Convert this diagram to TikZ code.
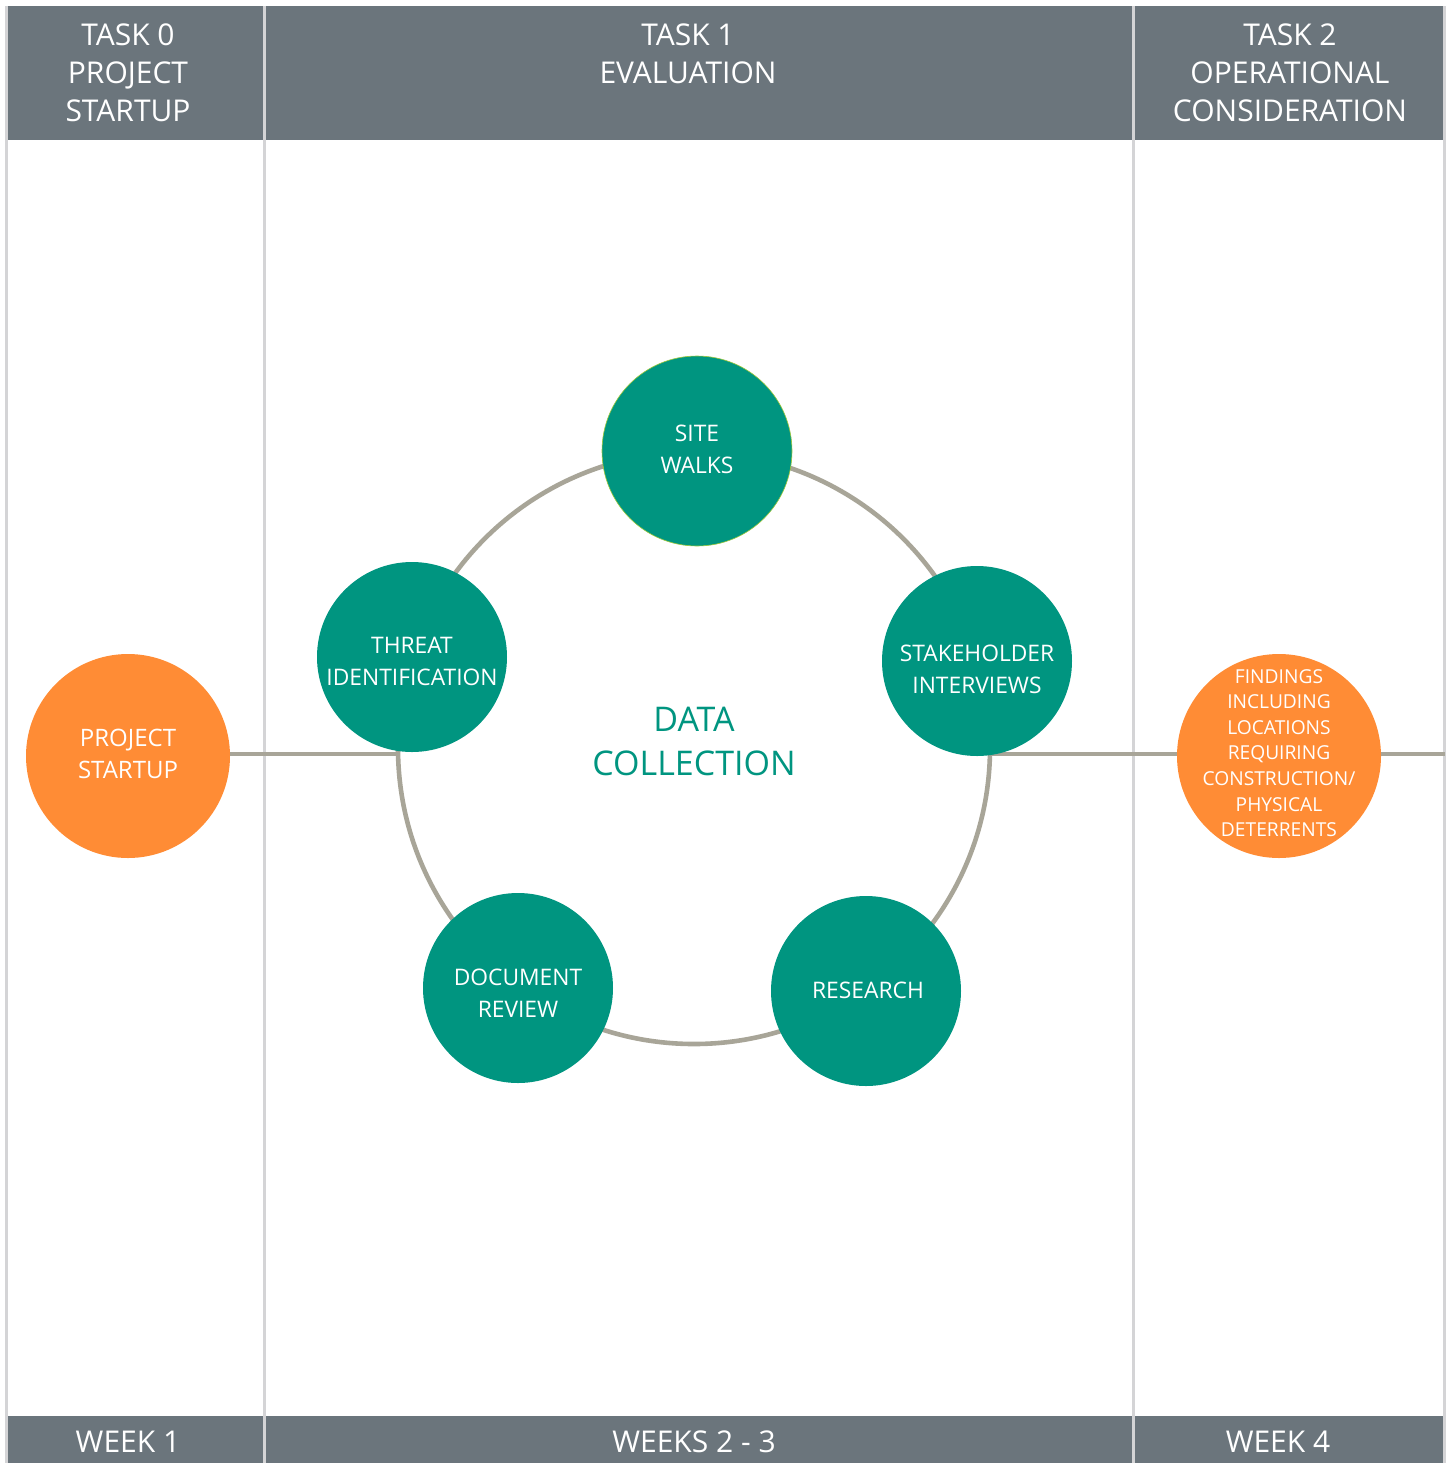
\documentclass[tikz,border=0pt]{standalone}
\usepackage{fontspec}
\setmainfont{Open Sans}
\definecolor{hdr}{HTML}{6B757C}
\definecolor{teal}{HTML}{009580}
\definecolor{org}{HTML}{FF8C35}
\definecolor{ringc}{HTML}{A8A598}
\definecolor{divc}{HTML}{D4D4D6}
\definecolor{lime}{HTML}{9CC83A}
\begin{document}
\begin{tikzpicture}[x=0.5pt,y=-0.5pt,
  hdrtext/.style={text=white,align=center,font=\fontsize{15}{19}\selectfont},
  ftrtext/.style={text=white,font=\fontsize{15}{19}\selectfont},
  tealc/.style={circle,fill=teal,minimum size=95pt,inner sep=0pt},
  tealt/.style={text=white,align=center,font=\fontsize{11.4}{16}\selectfont},
  orgc/.style={circle,fill=org,minimum size=102pt,inner sep=0pt},
  orgt/.style={text=white,align=center},
  conn/.style={draw=ringc,line width=2.3pt},
  divline/.style={draw=divc,line width=1.5pt}]
\useasboundingbox (0,0) rectangle (1449,1463);
\fill[white] (0,0) rectangle (1449,1463);
% header and footer bars
\fill[hdr] (7,6) rectangle (1443,140);
\fill[hdr] (7,1416) rectangle (1443,1463);
% column dividers
\draw[divline] (6,6) -- (6,1463);
\draw[divline] (264.5,6) -- (264.5,1463);
\draw[divline] (1133.5,6) -- (1133.5,1463);
\draw[divline] (1444,6) -- (1444,1463);
% header texts
\node[hdrtext] (h0) at (128,73) {TASK 0\\PROJECT\\STARTUP};
\node[hdrtext] (h1) at (688,54) {TASK 1\\EVALUATION};
\node[hdrtext] (h2) at (1290,73) {TASK 2\\OPERATIONAL\\CONSIDERATION};
% footer texts
\node[ftrtext] (f0) at (128,1442) {WEEK 1};
\node[ftrtext] (f1) at (694,1442) {WEEKS 2 - 3};
\node[ftrtext] (f2) at (1278,1442) {WEEK 4};
% ring
\node[circle,draw=ringc,line width=2.3pt,minimum size=296pt,inner sep=0pt] (ring) at (694,748) {};
\coordinate (lj) at (398,754);
\coordinate (rj) at (990,754);
\coordinate (edge) at (1445,754);
% outer nodes
\node[orgc] (ps) at (128,756) {};
\node[orgt,font=\fontsize{12}{16}\selectfont] (pst) at (128,754) {PROJECT\\STARTUP};
\node[orgc] (fd) at (1279,756) {};
\node[orgt,font=\fontsize{9.6}{12.8}\selectfont] (fdt) at (1279,753) {FINDINGS\\INCLUDING\\LOCATIONS\\REQUIRING\\CONSTRUCTION/\\PHYSICAL\\DETERRENTS};
\draw[conn] (ps.east |- lj) -- (lj);
\draw[conn] (rj) -- (fd.west |- rj);
\draw[conn] (fd.east |- rj) -- (edge);
% data collection circles
\node[tealc,draw=lime,line width=0.3pt] (sw) at (697,451) {};
\node[tealt] (swt) at (697,449) {SITE\\WALKS};
\node[tealc] (ti) at (412,657) {};
\node[tealt] (tit) at (412,661) {THREAT\\IDENTIFICATION};
\node[tealc] (si) at (977,661) {};
\node[tealt] (sit) at (977,669) {STAKEHOLDER\\INTERVIEWS};
\node[tealc] (dr) at (518,988) {};
\node[tealt] (drt) at (518,993) {DOCUMENT\\REVIEW};
\node[tealc] (rs) at (866,991) {};
\node[tealt] (rst) at (868,990) {RESEARCH};
\node[text=teal,align=center,font=\fontsize{17}{22}\selectfont] (dc) at (694,741) {DATA\\COLLECTION};
\end{tikzpicture}
\end{document}
